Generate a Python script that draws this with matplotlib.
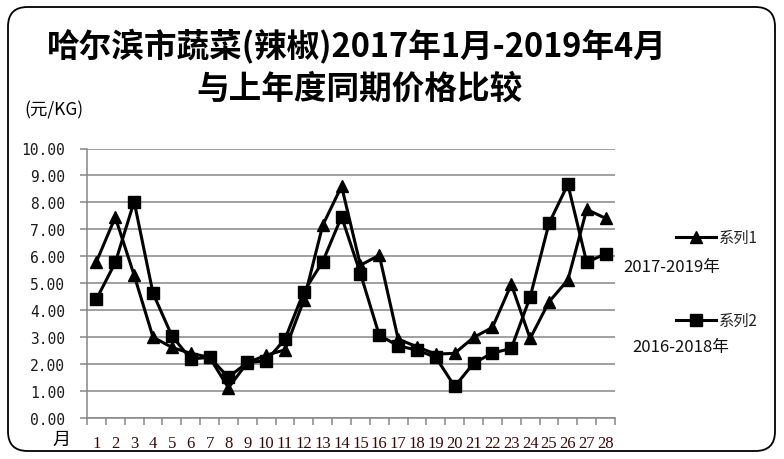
import matplotlib
matplotlib.use("Agg")
import matplotlib.pyplot as plt
from matplotlib.lines import Line2D
from matplotlib.patches import FancyBboxPatch

plt.rcParams['font.family'] = ['Noto Sans CJK SC', 'DejaVu Sans']

months = list(range(1, 29))
series1 = [5.8, 7.45, 5.3, 3.0, 2.62, 2.4, 2.25, 1.12, 2.05, 2.33, 2.53, 4.37,
           7.15, 8.6, 5.67, 6.04, 2.93, 2.64, 2.37, 2.4, 2.99, 3.36, 4.96, 2.95,
           4.31, 5.12, 7.74, 7.41]
series2 = [4.41, 5.77, 8.03, 4.63, 3.05, 2.19, 2.25, 1.51, 2.06, 2.12, 2.93, 4.69,
           5.8, 7.47, 5.36, 3.07, 2.68, 2.52, 2.25, 1.17, 2.03, 2.41, 2.58, 4.49,
           7.22, 8.67, 5.77, 6.1]
yticks = [0, 1, 2, 3, 4, 5, 6, 7, 8, 9, 10]
title1 = "哈尔滨市蔬菜(辣椒)2017年1月-2019年4月"
title2 = "与上年度同期价格比较"
names = ["系列1", "系列2"]
periods = ["2017-2019年", "2016-2018年"]

W, H = 784, 460
fig = plt.figure(figsize=(W / 100, H / 100), dpi=100)

def fx(px):
    return px / W

def fy(py):
    return 1 - py / H

# outer rounded frame
frame = FancyBboxPatch((fx(8), fy(452)), fx(775) - fx(8), fy(8) - fy(452),
                       boxstyle="round,pad=0,rounding_size=0.025",
                       transform=fig.transFigure, fill=False, edgecolor='black',
                       linewidth=1.3, mutation_aspect=W / H)
fig.add_artist(frame)

ax = fig.add_axes([fx(87), fy(419), fx(615) - fx(87), fy(149.5) - fy(419)])
grid_c = '#868686'
ax.set_xlim(0.5, 28.5)
ax.set_ylim(0, 10)
ax.set_yticks(yticks)
ax.set_yticklabels([f"{v:.2f}" for v in yticks], family='DejaVu Sans Mono',
                   fontsize=10.5, color='#1a1a1a')
ax.yaxis.grid(True, color=grid_c, linewidth=1.1)
ax.set_axisbelow(True)
ax.set_xticks(months)
ax.set_xticklabels([str(m) for m in months], family='Liberation Serif',
                   fontsize=12, color='#3a0808')
ax.set_xticks([m + 0.5 for m in [0] + months], minor=True)
ax.tick_params(axis='x', which='major', length=0, pad=12)
ax.tick_params(axis='x', which='minor', length=5, color=grid_c, width=1.1)
ax.tick_params(axis='y', length=5, color=grid_c, width=1.1, pad=11)
for s in ['top', 'right']:
    ax.spines[s].set_visible(False)
for s in ['left', 'bottom']:
    ax.spines[s].set_color(grid_c)
    ax.spines[s].set_linewidth(1.1)

ax.plot(months, series1, color='black', linewidth=2.2, marker='^',
        markersize=9, clip_on=False, zorder=3)
ax.plot(months, series2, color='black', linewidth=2.2, marker='s',
        markersize=8.5, clip_on=False, zorder=3)

# titles
fig.text(fx(357), fy(47), title1, ha='center', va='center', fontsize=23.5,
         fontweight='bold', family=['Noto Sans CJK SC', 'DejaVu Sans'])
fig.text(fx(360), fy(89), title2, ha='center', va='center', fontsize=23.5,
         fontweight='bold', family=['Noto Sans CJK SC', 'DejaVu Sans'])
fig.text(fx(24), fy(110), "(元/KG)", ha='left', va='center', fontsize=12.5)
fig.text(fx(61), fy(440), "月", ha='center', va='center', fontsize=13,
         family=['Noto Sans CJK SC'])

# custom legend
leg_y = [238, 321]
per_xy = [(623, 268), (632, 348)]
mk = ['^', 's']
for i in range(2):
    fig.add_artist(Line2D([fx(676), fx(716)], [fy(leg_y[i]), fy(leg_y[i])],
                          color='black', linewidth=2.2, transform=fig.transFigure))
    fig.add_artist(Line2D([fx(696)], [fy(leg_y[i])], marker=mk[i], color='black',
                          markersize=8, linestyle='none', transform=fig.transFigure))
    fig.text(fx(719), fy(leg_y[i]), names[i], ha='left', va='center', fontsize=11,
             color='#222222')
    fig.text(fx(per_xy[i][0]), fy(per_xy[i][1]), periods[i], ha='left', va='center',
             fontsize=12, color='#111111')

fig.savefig("out.png", dpi=100)
